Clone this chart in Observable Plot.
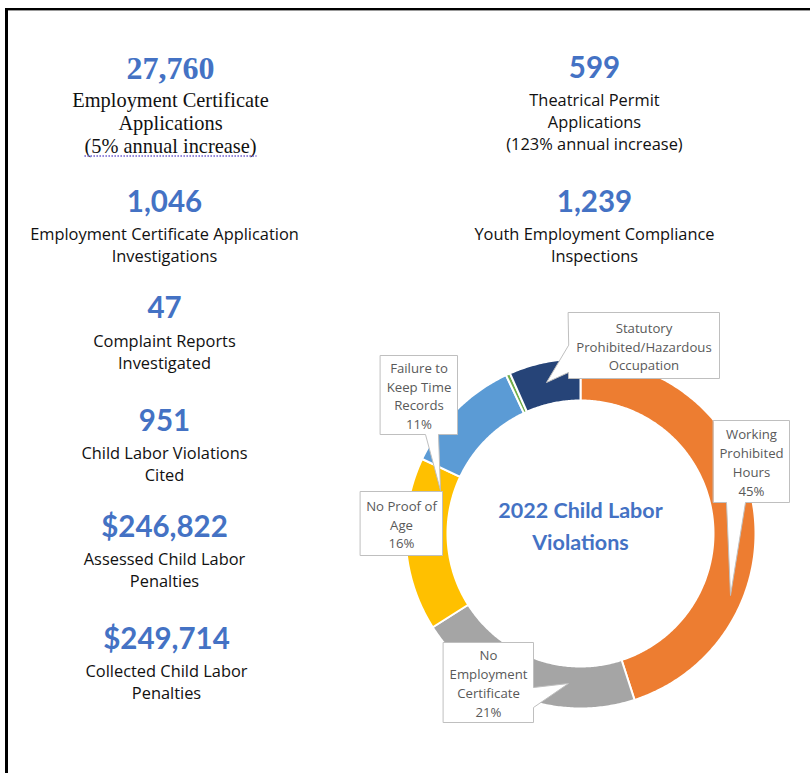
<!DOCTYPE html>
<html>
<head>
<meta charset="utf-8">
<script src="https://cdn.jsdelivr.net/npm/d3@7"></script>
<script src="https://cdn.jsdelivr.net/npm/@observablehq/plot@0.6"></script>
<style>
  html, body { margin: 0; padding: 0; background: #fff; }
  #wrap { position: relative; width: 810px; height: 773px; overflow: hidden; }
  #frame { position: absolute; left: 5px; top: 8px; right: -10px; bottom: -10px;
           border-left: 3px solid #000; border-top: 2px solid #000;
           box-shadow: inset 0 1px 0 #999; pointer-events: none; }
  #chart svg { display: block; }
</style>
</head>
<body>
<div id="wrap"><div id="chart"></div><div id="frame"></div></div>
<script>
// ---------- data ----------
const sliceNames = ["Working Prohibited Hours", "No Employment Certificate", "No Proof of Age",
                    "Failure to Keep Time Records", "Other", "Statutory Prohibited/Hazardous Occupation"];
const sliceShares = [45, 21, 16, 11, 0.4, 6.6];
const sliceColors = ["#ED7D31", "#A5A5A5", "#FFC000", "#5B9BD5", "#70AD47", "#264478"];
const sliceLabels = ["Working\nProhibited\nHours\n45%", "No\nEmployment\nCertificate\n21%",
                     "No Proof of\nAge\n16%", "Failure to\nKeep Time\nRecords\n11%", null,
                     "Statutory\nProhibited/Hazardous\nOccupation"];
const donutTitle = "2022 Child Labor\nViolations";

const leftValues = ["27,760", "1,046", "47", "951", "$246,822", "$249,714"];
const leftLabels = ["Employment Certificate\nApplications\n(5% annual increase)",
                    "Employment Certificate Application\nInvestigations",
                    "Complaint Reports\nInvestigated",
                    "Child Labor Violations\nCited",
                    "Assessed Child Labor\nPenalties",
                    "Collected Child Labor\nPenalties"];
const rightValues = ["599", "1,239"];
const rightLabels = ["Theatrical Permit\nApplications\n(123% annual increase)",
                     "Youth Employment Compliance\nInspections"];

// ---------- layout ----------
const W = 810, H = 773;
const BLUE = "#4472C4";
const SANS = "Lato, 'Open Sans', sans-serif";
const LABEL = "'Open Sans', Lato, sans-serif";
const SERIF = "'Liberation Serif', 'DejaVu Serif', serif";
const donut = {cx: 580, cy: 533, r0: 133, r1: 175};
const leftX = [170, 164, 164, 164, 164, 166];
const leftNumY = [68, 202, 308, 421, 527, 639];
const leftLabY = [122, 243, 350, 462, 568, 680];
const rightX = 594;
const rightNumY = [68, 202];
const rightLabY = [120.5, 243.5];
// callout boxes [x1,y1,x2,y2], pointer side, base range, tip
const callouts = [
  {box: [713, 420, 789, 502], side: "bottom", base: [726, 745], tip: [730, 595]},
  {box: [443, 642, 533, 722], side: "right", base: [687, 707], tip: [568, 683]},
  {box: [360, 491, 442, 555], side: null},
  {box: [380, 355, 457, 434], side: "bottom", base: [425, 438], tip: [440, 490]},
  null,
  {box: [568, 312, 719, 378], side: "left", base: [345, 372], tip: [546, 382]}
];

// ---------- donut geometry from data ----------
const sliceData = sliceNames.map((name, i) => ({name, share: sliceShares[i], color: sliceColors[i], label: sliceLabels[i]}));
const arcs = d3.pie().sort(null).value(d => d.share)(sliceData);
const polar = (a, r) => [donut.cx + r * Math.sin(a), donut.cy - r * Math.cos(a)];
const slicePts = [];
arcs.forEach(a => {
  const n = Math.max(4, Math.ceil((a.endAngle - a.startAngle) / 0.01));
  for (let k = 0; k <= n; k++) {
    const t = a.startAngle + (a.endAngle - a.startAngle) * k / n;
    const [x, y] = polar(t, donut.r1);
    slicePts.push({name: a.data.name, color: a.data.color, x, y});
  }
  for (let k = n; k >= 0; k--) {
    const t = a.startAngle + (a.endAngle - a.startAngle) * k / n;
    const [x, y] = polar(t, donut.r0);
    slicePts.push({name: a.data.name, color: a.data.color, x, y});
  }
});

// callout polygons
const calloutPts = [];
const calloutText = [];
sliceData.forEach((d, i) => {
  const c = callouts[i];
  if (!c || !d.label) return;
  const [x1, y1, x2, y2] = c.box;
  let pts = [[x1, y1], [x2, y1]];
  if (c.side === "right") pts.push([x2, c.base[0]], c.tip, [x2, c.base[1]]);
  pts.push([x2, y2]);
  if (c.side === "bottom") pts.push([c.base[1], y2], c.tip, [c.base[0], y2]);
  pts.push([x1, y2]);
  if (c.side === "left") pts.push([x1, c.base[1]], c.tip, [x1, c.base[0]]);
  pts.forEach(([x, y]) => calloutPts.push({id: d.name, x, y}));
  calloutText.push({text: d.label, x: (x1 + x2) / 2, y: (y1 + y2) / 2});
});

const stats = [
  ...leftValues.map((v, i) => ({value: v, label: leftLabels[i], x: leftX[i], ny: leftNumY[i], ly: leftLabY[i], serif: i === 0})),
  ...rightValues.map((v, i) => ({value: v, label: rightLabels[i], x: rightX, ny: rightNumY[i], ly: rightLabY[i], serif: false}))
];
const serifStats = stats.filter(d => d.serif);
const sansStats = stats.filter(d => !d.serif);

const plot = Plot.plot({
  width: W, height: H,
  margin: 0,
  x: {domain: [0, W], range: [0, W], axis: null},
  y: {domain: [0, H], range: [0, H], axis: null},
  color: {type: "identity"},
  marks: [
    Plot.line(slicePts, {x: "x", y: "y", z: "name", fill: "color", stroke: "white", strokeWidth: 2, curve: "linear-closed"}),
    Plot.line(calloutPts, {x: "x", y: "y", z: "id", fill: "white", stroke: "#BFBFBF", strokeWidth: 1, curve: "linear-closed"}),
    Plot.text(calloutText, {x: "x", y: "y", text: "text", fontFamily: LABEL, fontSize: 13.2, fill: "#595959", lineHeight: 1.42, lineAnchor: "middle"}),
    Plot.text([donutTitle], {x: () => donut.cx, y: () => donut.cy - 10, text: d => d, fontFamily: SANS, fontWeight: "bold", fontSize: 21.5, fill: BLUE, lineHeight: 1.49, lineAnchor: "middle"}),
    // numbers
    Plot.text(serifStats, {x: "x", y: "ny", text: "value", fontFamily: SERIF, fontWeight: "bold", fontSize: 32, fill: BLUE, lineAnchor: "middle"}),
    Plot.text(sansStats, {x: "x", y: "ny", text: "value", fontFamily: SANS, fontWeight: "bold", fontSize: 29.5, fill: BLUE, lineAnchor: "middle"}),
    // labels
    Plot.text(serifStats, {x: "x", y: "ly", text: "label", fontFamily: SERIF, fontSize: 20.4, fill: "#111", lineHeight: 1.13, lineAnchor: "middle"}),
    Plot.text(sansStats, {x: "x", y: "ly", text: "label", fontFamily: LABEL, fontSize: 16.4, fill: "#111", lineHeight: 1.36, lineAnchor: "middle"})
  ]
});
document.getElementById("chart").appendChild(plot);

// spell-check style dotted underline under the "(5% annual increase)" line
const target = leftLabels[0].split("\n")[2];
d3.select(plot).selectAll("tspan").each(function() {
  if (this.textContent !== target) return;
  const r = this.getBoundingClientRect();
  const p = plot.getBoundingClientRect();
  const x1 = r.left - p.left, x2 = r.right - p.left, y = r.bottom - p.top - 2;
  d3.select(plot).append("line")
    .attr("x1", x1).attr("x2", x2).attr("y1", y).attr("y2", y)
    .attr("stroke", "#6A5ACD").attr("stroke-width", 1.5).attr("stroke-dasharray", "1.5,1.5");
});
</script>
</body>
</html>
